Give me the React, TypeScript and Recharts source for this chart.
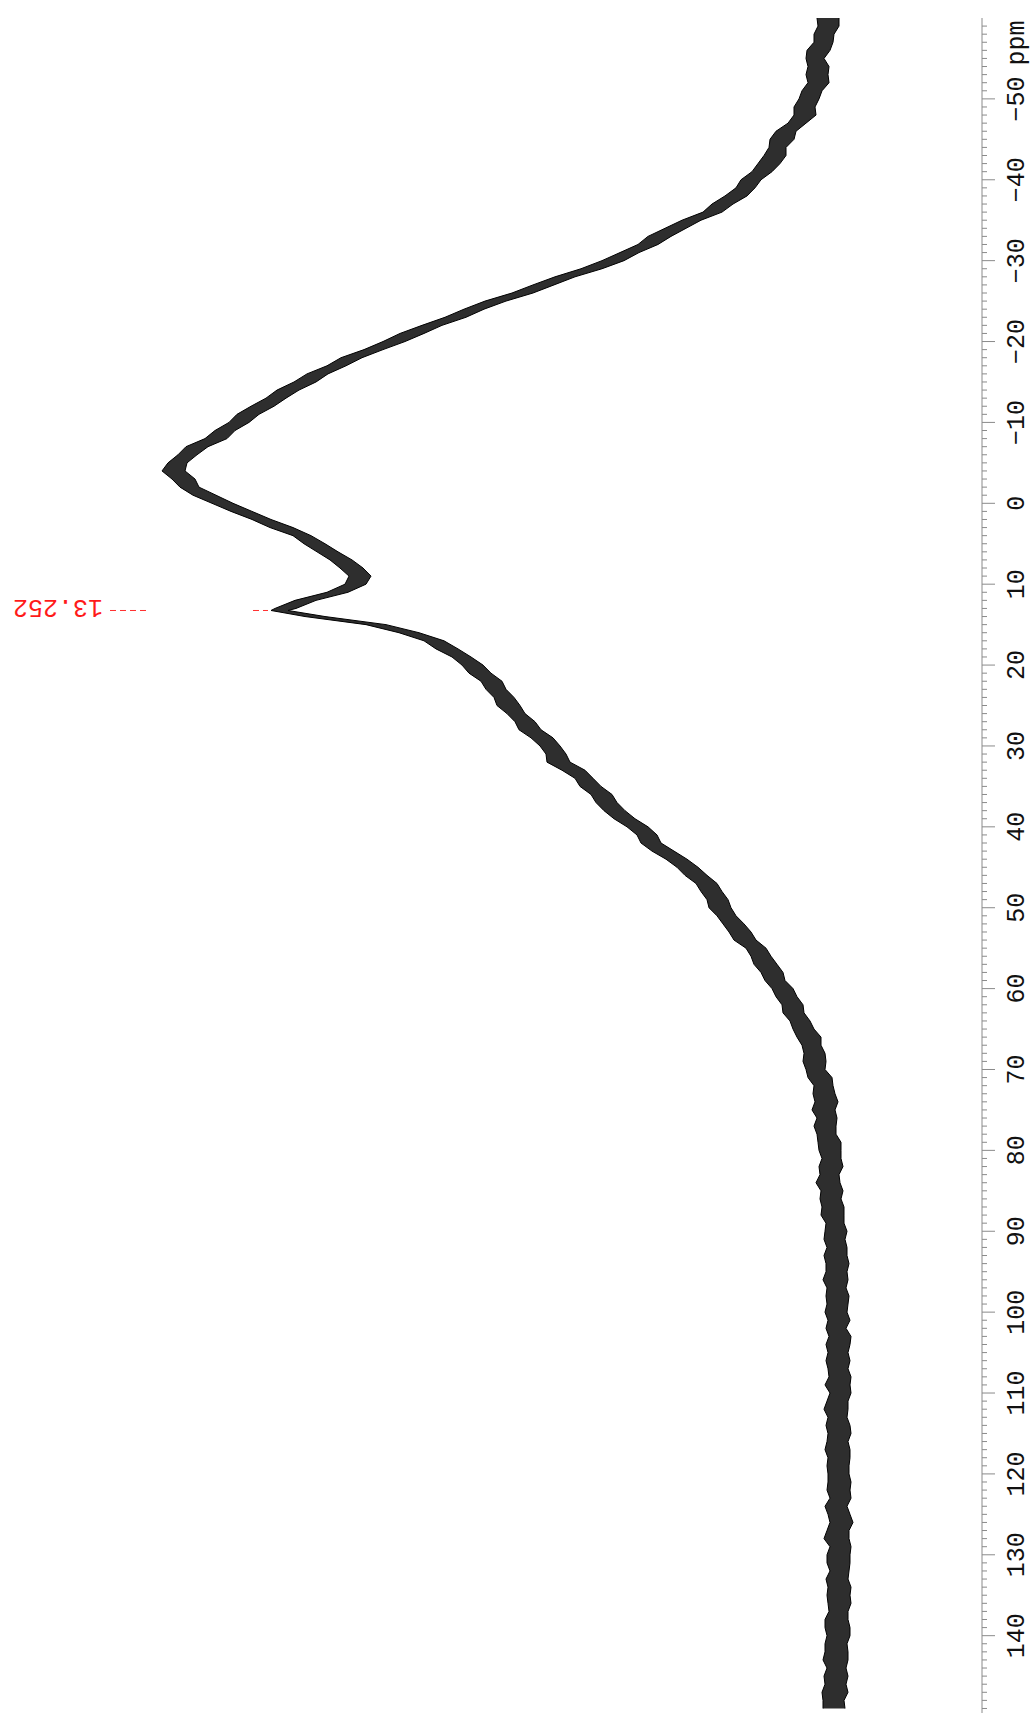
import React from "react";
import { ComposedChart, Area, XAxis, YAxis, ReferenceLine } from "recharts";

// Chemical shift (ppm) of each sampled point
const PPM: number[] = [
  -60, -59, -58, -57, -56, -55, -54, -53, -52, -51,
  -50, -49, -48, -47, -46, -45, -44, -43, -42, -41,
  -40, -39, -38, -37, -36, -35, -34, -33, -32, -31,
  -30, -29, -28, -27, -26, -25, -24, -23, -22, -21,
  -20, -19, -18, -17, -16, -15, -14, -13, -12, -11,
  -10, -9, -8, -7, -6, -5, -4, -3, -2, -1,
  0, 1, 2, 3, 4, 5, 6, 7, 8, 9,
  10, 11, 12, 13, 13.25, 14, 15, 16, 17, 18, 19,
  20, 21, 22, 23, 24, 25, 26, 27, 28, 29,
  30, 31, 32, 33, 34, 35, 36, 37, 38, 39,
  40, 41, 42, 43, 44, 45, 46, 47, 48, 49,
  50, 51, 52, 53, 54, 55, 56, 57, 58, 59,
  60, 61, 62, 63, 64, 65, 66, 67, 68, 69,
  70, 71, 72, 73, 74, 75, 76, 77, 78, 79,
  80, 81, 82, 83, 84, 85, 86, 87, 88, 89,
  90, 91, 92, 93, 94, 95, 96, 97, 98, 99,
  100, 101, 102, 103, 104, 105, 106, 107, 108, 109,
  110, 111, 112, 113, 114, 115, 116, 117, 118, 119,
  120, 121, 122, 123, 124, 125, 126, 127, 128, 129,
  130, 131, 132, 133, 134, 135, 136, 137, 138, 139,
  140, 141, 142, 143, 144, 145, 146, 147, 148, 149,
];

// Mean signal intensity (arbitrary units)
const INTENSITY: number[] = [
  153, 155, 157, 160, 162, 166, 165, 164, 164, 169,
  174, 176, 178, 186, 195, 199, 204, 208, 212, 221,
  230, 238, 247, 258, 270, 289, 307, 321, 336, 352,
  368, 392, 416, 439, 462, 485, 508, 528, 549, 569,
  589, 609, 629, 647, 664, 678, 692, 707, 721, 733,
  744, 756, 767, 784, 796, 804, 807, 799, 793, 779,
  758, 741, 721, 701, 681, 666, 655, 643, 629, 623,
  626, 646, 675, 697, 702, 669, 606, 572, 549, 534, 520,
  511, 501, 491, 485, 480, 472, 465, 458, 451, 441,
  431, 427, 422, 410, 399, 390, 382, 375, 368, 356,
  345, 337, 330, 318, 307, 295, 284, 277, 270, 265,
  261, 255, 250, 242, 235, 228, 221, 216, 212, 206,
  201, 195, 190, 187, 184, 178, 172, 170, 169, 167,
  166, 162, 159, 158, 157, 157, 157, 156, 155, 153,
  152, 151, 151, 152, 153, 152, 151, 150, 149, 148,
  147, 146, 146, 145, 145, 146, 147, 146, 145, 145,
  145, 144, 145, 144, 143, 144, 144, 143, 144, 143,
  143, 144, 145, 144, 144, 145, 144, 143, 144, 143,
  143, 144, 143, 143, 144, 143, 142, 143, 144, 143,
  143, 144, 143, 143, 144, 143, 143, 144, 145, 144,
  145, 145, 146, 145, 146, 146, 147, 147, 148, 149,
];

// Noise excursion above the mean (arbitrary units)
const NOISE_HIGH: number[] = [
  12, 9, 11, 8, 13, 10, 9, 12, 10, 11,
  9, 12, 10, 8, 11, 13, 9, 10, 12, 9,
  11, 8, 10, 12, 9, 11, 10, 13, 8, 10,
  12, 9, 11, 10, 8, 12, 10, 9, 11, 13,
  10, 9, 12, 8, 11, 10, 13, 9, 10, 12,
  9, 11, 10, 12, 8, 10, 13, 11, 9, 10,
  12, 10, 9, 11, 8, 12, 10, 9, 13, 10,
  11, 9, 12, 10, 9, 8, 10, 11, 9, 12, 10,
  9, 12, 10, 11, 8, 13, 10, 9, 12, 10,
  11, 9, 13, 10, 8, 12, 9, 11, 10, 12,
  10, 8, 11, 12, 9, 10, 13, 9, 11, 10,
  12, 10, 9, 11, 13, 8, 10, 12, 9, 11,
  9, 11, 10, 12, 8, 11, 13, 10, 9, 12,
  10, 12, 9, 11, 10, 13, 8, 12, 10, 11,
  11, 9, 12, 10, 13, 9, 11, 10, 12, 8,
  10, 12, 9, 13, 11, 10, 12, 9, 11, 10,
  12, 10, 11, 9, 13, 10, 12, 11, 9, 14,
  9, 11, 13, 10, 12, 9, 11, 14, 10, 12,
  11, 10, 12, 9, 13, 11, 10, 12, 14, 9,
  12, 11, 9, 13, 10, 12, 11, 9, 12, 13,
  10, 12, 11, 14, 9, 12, 10, 13, 11, 10,
];

// Noise excursion below the mean (arbitrary units)
const NOISE_LOW: number[] = [
  10, 12, 9, 11, 10, 8, 12, 10, 11, 9,
  11, 9, 12, 10, 9, 11, 8, 12, 10, 11,
  9, 11, 12, 9, 10, 8, 11, 10, 12, 9,
  10, 12, 9, 11, 13, 9, 10, 12, 9, 11,
  12, 10, 9, 11, 10, 12, 9, 11, 13, 10,
  11, 9, 12, 10, 11, 9, 10, 12, 10, 13,
  9, 11, 10, 12, 10, 9, 11, 13, 10, 12,
  10, 12, 9, 11, 8, 12, 10, 9, 11, 10, 9,
  12, 10, 11, 9, 12, 10, 8, 11, 10, 12,
  9, 11, 10, 13, 10, 9, 12, 10, 11, 9,
  11, 12, 9, 10, 12, 11, 9, 12, 10, 11,
  10, 9, 12, 11, 9, 12, 10, 11, 13, 9,
  12, 10, 11, 9, 12, 10, 11, 9, 12, 11,
  9, 12, 10, 11, 13, 10, 12, 10, 9, 12,
  11, 10, 12, 9, 11, 13, 10, 12, 11, 10,
  12, 9, 11, 10, 12, 11, 13, 10, 12, 11,
  10, 12, 9, 13, 11, 10, 12, 9, 13, 11,
  12, 10, 11, 9, 12, 14, 10, 11, 12, 10,
  10, 13, 11, 12, 9, 11, 13, 10, 11, 12,
  11, 12, 10, 9, 13, 11, 12, 10, 11, 12,
  13, 10, 12, 11, 10, 12, 11, 13, 10, 12,
];

// Axis labels (ppm)
const MAJOR_TICKS: number[] = [-50, -40, -30, -20, -10, 0, 10, 20, 30, 40, 50, 60, 70, 80, 90, 100, 110, 120, 130, 140];
const PPM_DOMAIN: [number, number] = [-60, 149.56];
const INTENSITY_DOMAIN: [number, number] = [0, 982];

// Peak pick annotation
const PEAK_PPM = 13.252;
const PEAK_LABEL = "13.252";
const PEAK_LEADER_A: [number, number] = [872, 832];
const PEAK_LEADER_B: [number, number] = [729, 714];

const ALL_TICKS: number[] = [];
for (let v = -59; v <= 149; v++) ALL_TICKS.push(v);

const rows = PPM.map((p, i) => ({
  ppm: p,
  band: [INTENSITY[i] - NOISE_LOW[i], INTENSITY[i] + NOISE_HIGH[i]],
}));

const FONT = "'Liberation Mono', 'DejaVu Sans Mono', monospace";

const AxisTick = (props: any) => {
  const { x, y, payload } = props;
  const v = payload.value as number;
  const major = MAJOR_TICKS.includes(v);
  const label = v < 0 ? "\u2212" + Math.abs(v) : String(v);
  return (
    <g>
      <line x1={x} x2={x + (major ? 13 : 5)} y1={y} y2={y} stroke="#8a8a8a" strokeWidth={1} />
      {major && (
        <text
          transform={`translate(${x + 42},${y}) rotate(-90)`}
          textAnchor="middle"
          fontFamily={FONT}
          fontSize={25}
          fill="#111"
        >
          {label}
        </text>
      )}
    </g>
  );
};

const UnitLabel = (props: any) => {
  const vb = props.viewBox || {};
  const x = (vb.x ?? 982) + 42;
  const y = (vb.y ?? 18) + 25;
  return (
    <text transform={`translate(${x},${y}) rotate(-90)`} textAnchor="middle" fontFamily={FONT} fontSize={25} fill="#111">
      ppm
    </text>
  );
};

const PeakLabel = (props: any) => {
  const vb = props.viewBox || {};
  const cx = vb.x - 52;
  const cy = vb.y - 10;
  return (
    <text transform={`translate(${cx},${cy}) rotate(180)`} textAnchor="middle" fontFamily={FONT} fontSize={25} fill="#ff1a1a">
      {PEAK_LABEL}
    </text>
  );
};

export default function App() {
  return (
    <div style={{ position: "absolute", left: 0, top: 0, width: 1033, height: 1713, background: "#fff" }}>
      <ComposedChart
        layout="vertical"
        width={1033}
        height={1713}
        data={rows}
        margin={{ top: 18, right: 0, bottom: 0, left: 0 }}
      >
        <XAxis type="number" domain={INTENSITY_DOMAIN} reversed hide allowDataOverflow />
        <YAxis
          type="number"
          dataKey="ppm"
          orientation="right"
          width={51}
          domain={PPM_DOMAIN}
          allowDataOverflow
          ticks={ALL_TICKS}
          interval={0}
          tickSize={0}
          tickMargin={0}
          tickLine={false}
          axisLine={{ stroke: "#8a8a8a", strokeWidth: 1 }}
          tick={<AxisTick />}
          label={<UnitLabel />}
        />
        <Area
          type="linear"
          dataKey="band"
          stroke="#000"
          strokeWidth={1}
          fill="#000"
          fillOpacity={0.82}
          dot={false}
          activeDot={false}
          isAnimationActive={false}
        />
        <ReferenceLine
          segment={[{ x: PEAK_LEADER_A[0], y: PEAK_PPM }, { x: PEAK_LEADER_A[1], y: PEAK_PPM }]}
          stroke="#ff3030"
          strokeDasharray="6 4"
          label={<PeakLabel />}
        />
        <ReferenceLine
          segment={[{ x: PEAK_LEADER_B[0], y: PEAK_PPM }, { x: PEAK_LEADER_B[1], y: PEAK_PPM }]}
          stroke="#ff3030"
          strokeDasharray="6 4"
        />
      </ComposedChart>
    </div>
  );
}
